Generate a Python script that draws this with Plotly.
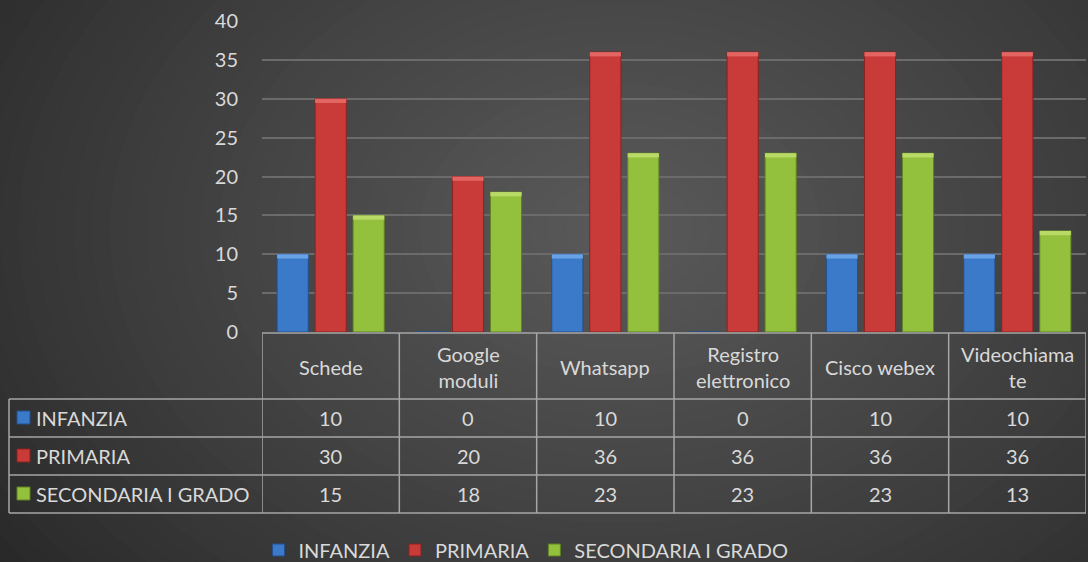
import plotly.graph_objects as go

# ---------------- data ----------------
categories = ["Schede", "Google moduli", "Whatsapp", "Registro elettronico", "Cisco webex", "Videochiamate"]
header_labels = ["Schede", "Google<br>moduli", "Whatsapp", "Registro<br>elettronico", "Cisco webex", "Videochiama<br>te"]
series_names = ["INFANZIA", "PRIMARIA", "SECONDARIA I GRADO"]
infanzia = [10, 0, 10, 0, 10, 10]
primaria = [30, 20, 36, 36, 36, 36]
secondaria = [15, 18, 23, 23, 23, 13]
y_ticks = [0, 5, 10, 15, 20, 25, 30, 35, 40]

# ---------------- styling ----------------
series_values = [infanzia, primaria, secondaria]
colors = ["#3b79c9", "#c93b38", "#94c13d"]
cap_colors = ["#6aa2e6", "#e26562", "#bada68"]
edge_colors = ["#23508d", "#8a2220", "#5f8223"]
FONT = "Lato"
FS = 20
TXT = "#d9d9d9"
GRID = "#6b6b6b"
TBL = "#a6a6a6"

W, H = 1088, 562
L, R, T, B = 262, 2, 21, 230
pw, ph = W - L - R, H - T - B


def px(x):
    return (x - L) / pw


def py(y):
    return (H - B - y) / ph


fig = go.Figure()
CAP = 0.55
for k, (name, vals, c, cc, ec) in enumerate(zip(series_names, series_values, colors, cap_colors, edge_colors)):
    fig.add_trace(go.Bar(
        x=categories, y=vals, name=name, offsetgroup=str(k),
        marker=dict(color=c, line=dict(color=ec, width=1)),
        hoverinfo="skip",
    ))
for k, (name, vals, c, cc, ec) in enumerate(zip(series_names, series_values, colors, cap_colors, edge_colors)):
    fig.add_trace(go.Bar(
        x=categories, y=[CAP if v > 0 else 0 for v in vals],
        base=[v - CAP if v > 0 else 0 for v in vals],
        name=name, offsetgroup=str(k), showlegend=False,
        marker=dict(color=cc, line=dict(width=0)),
        hoverinfo="skip",
    ))

shapes = []
# radial background gradient
cx, cy = 620, 230
N = 45
c_out = (0x24, 0x24, 0x24)
c_in = (0x5a, 0x5a, 0x5a)
for k in range(N, 0, -1):
    f = k / N
    rx, ry = 820 * f, 600 * f
    t = (1 - f) ** 0.85
    col = tuple(int(round(c_out[i] + (c_in[i] - c_out[i]) * t)) for i in range(3))
    shapes.append(dict(type="circle", xref="paper", yref="paper", layer="below",
                       x0=px(cx - rx), x1=px(cx + rx), y0=py(cy + ry), y1=py(cy - ry),
                       fillcolor="rgb(%d,%d,%d)" % col, line=dict(width=0)))

# data table grid
y_head_top, y_head_bot = 333, 399
row_edges = [399, 437, 475, 513]
x_left, x_lab = 9, 262
lw = 1.5
shapes.append(dict(type="line", xref="paper", yref="paper", x0=px(x_lab), x1=1, y0=py(y_head_top), y1=py(y_head_top),
                   line=dict(color=TBL, width=lw)))
for yy in row_edges:
    shapes.append(dict(type="line", xref="paper", yref="paper", x0=px(x_left), x1=1, y0=py(yy), y1=py(yy),
                       line=dict(color=TBL, width=lw)))
shapes.append(dict(type="line", xref="paper", yref="paper", x0=px(x_left), x1=px(x_left),
                   y0=py(row_edges[0]), y1=py(row_edges[-1]), line=dict(color=TBL, width=lw)))
for i in range(len(categories) + 1):
    shapes.append(dict(type="line", xref="x", yref="paper", x0=i - 0.5, x1=i - 0.5,
                       y0=py(y_head_top), y1=py(row_edges[-1]), line=dict(color=TBL, width=lw)))

annotations = []
for i, lab in enumerate(header_labels):
    annotations.append(dict(x=i, y=py((y_head_top + y_head_bot) / 2 + 1), xref="x", yref="paper", text=lab,
                            xanchor="center", yanchor="middle",
                            showarrow=False, font=dict(family=FONT, size=FS, color=TXT), align="center"))
for r, (name, vals, c, ec) in enumerate(zip(series_names, series_values, colors, edge_colors)):
    ymid = (row_edges[r] + row_edges[r + 1]) / 2
    shapes.append(dict(type="rect", xref="paper", yref="paper", x0=px(17), x1=px(30),
                       y0=py(ymid + 6), y1=py(ymid - 7), fillcolor=c, line=dict(color=ec, width=1)))
    annotations.append(dict(x=px(34), y=py(ymid), xref="paper", yref="paper", text=name,
                            xanchor="left", yanchor="middle",
                            showarrow=False, font=dict(family=FONT, size=FS, color=TXT)))
    for i, v in enumerate(vals):
        annotations.append(dict(x=i, y=py(ymid), xref="x", yref="paper", text=str(v),
                                xanchor="center", yanchor="middle",
                                showarrow=False, font=dict(family=FONT, size=FS, color=TXT)))

fig.update_layout(
    width=W, height=H,
    margin=dict(l=L, r=R, t=T, b=B, pad=0),
    paper_bgcolor="#242424", plot_bgcolor="rgba(0,0,0,0)",
    barmode="group", bargap=0.17, bargroupgap=0.18,
    font=dict(family=FONT, size=FS, color=TXT),
    xaxis=dict(type="category", range=[-0.5, 5.5], showticklabels=False, showgrid=False,
               zeroline=False, showline=False, ticks=""),
    yaxis=dict(range=[0, 40], tickvals=y_ticks, showgrid=True, gridcolor=GRID, gridwidth=1.5,
               zeroline=False, showline=False, ticks="", ticklabelstandoff=23,
               tickfont=dict(family=FONT, size=FS, color=TXT)),
    legend=dict(orientation="h", xref="container", yref="container", x=(544 - 18) / W, xanchor="center",
                y=(H - 550) / H, yanchor="middle", font=dict(family=FONT, size=FS, color=TXT),
                bgcolor="rgba(0,0,0,0)", itemwidth=30, traceorder="normal"),
    shapes=shapes, annotations=annotations,
    showlegend=True,
)

fig.write_html("out.html", config={"displayModeBar": False},
               post_script="document.body.style.margin='0';document.body.style.overflow='hidden';")
